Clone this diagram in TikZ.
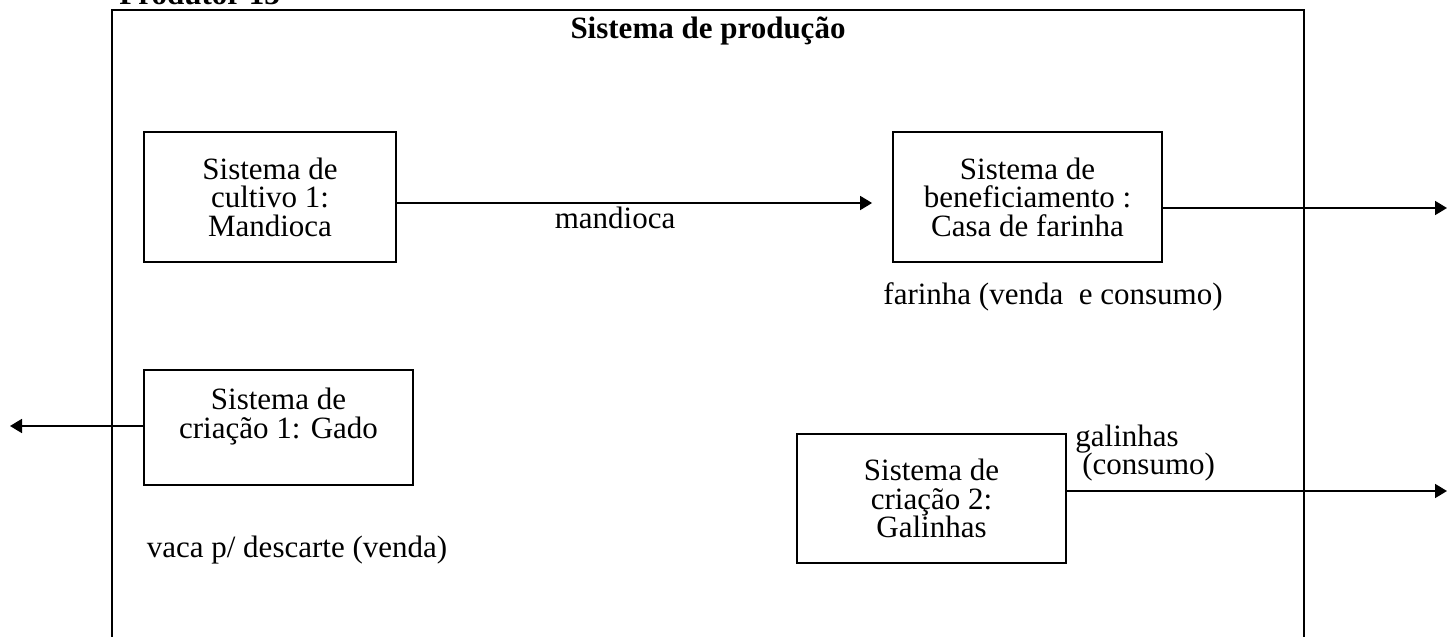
\documentclass[tikz,border=0pt]{standalone}
\usepackage{fontspec}
\setmainfont{Liberation Serif}
\usetikzlibrary{arrows.meta, positioning}

\begin{document}
\begin{tikzpicture}[
    x=0.5pt, y=-0.5pt,
    box/.style={draw, line width=0.9pt, align=center, inner sep=0pt,
                font=\fontsize{15.5}{14.25}\selectfont},
    lbl/.style={font=\fontsize{15.5}{14.25}\selectfont, inner sep=0pt},
    frame/.style={line width=1.3pt},
    >={Triangle[length=6pt, width=7pt]}
  ]
  \useasboundingbox (0,0) rectangle (1447,637);
  \clip (0,0) rectangle (1447,637);

  % sistema de producao
  \draw[frame] (112,680) -- (112,10) -- (1304,10) -- (1304,680);
  \node[lbl, font=\fontsize{15.5}{14.25}\selectfont\bfseries, anchor=base west]
    (produtor) at (119,4) {Produtor 13};
  \node[lbl, font=\fontsize{15.5}{14.25}\selectfont\bfseries]
    (titulo) at (708,31) {Sistema de produção};

  \node[box, minimum width=126pt, minimum height=65pt] (cultivo) at (270,197)
    {Sistema de\\cultivo 1:\\Mandioca};
  \node[box, minimum width=134.5pt, minimum height=65pt] (benef) at (1027.5,197)
    {Sistema de\\beneficiamento :\\Casa de farinha};
  \node[box, minimum width=134.5pt, minimum height=57.5pt] (gado) at (278.5,427.5)
    {Sistema de\\criação 1: Gado\\\mbox{}};
  \node[box, minimum width=134.5pt, minimum height=64.5pt] (galinhas) at (931.5,498.5)
    {Sistema de\\criação 2:\\Galinhas};

  \coordinate (farout) at (1447,208);
  \coordinate (vacaout) at (10,426);
  \coordinate (galout) at (1447,491);

  \draw[->, line width=0.9pt] ([yshift=-3pt]cultivo.east) -- ([xshift=-10pt, yshift=-3pt]benef.west);
  \draw[->, line width=0.9pt] (benef.east |- farout) -- (farout);
  \draw[->, line width=0.9pt] (gado.west |- vacaout) -- (vacaout);
  \draw[->, line width=0.9pt] (galinhas.east |- galout) -- (galout);

  \node[lbl] (mandioca) at (615,218) {mandioca};
  \node[lbl] (farinha) at (1053,297) {farinha (venda \ e consumo)};
  \node[lbl] (vaca) at (297,550) {vaca p/ descarte (venda)};
  \node[lbl, align=left, anchor=west] (galcons) at (1075,453)
    {galinhas\\\hspace*{3.5pt}(consumo)};
\end{tikzpicture}
\end{document}
